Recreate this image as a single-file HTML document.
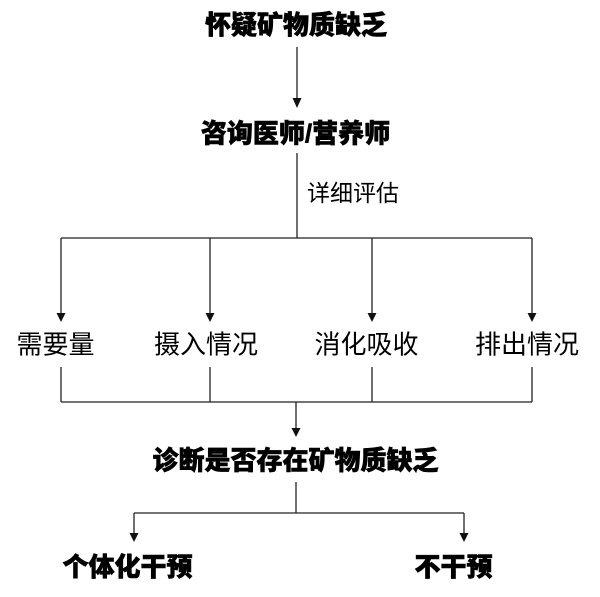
<!DOCTYPE html>
<html><head><meta charset="utf-8"><style>
html,body{margin:0;padding:0;background:#fff;}
svg{display:block;}
text{font-family:"Liberation Sans","Noto Sans CJK SC",sans-serif;fill:#000;}
.b{font-weight:900;font-size:26px;stroke:#000;stroke-width:0.6px;}
.r{font-weight:400;font-size:26px;}
</style></head><body>
<svg width="600" height="597" viewBox="0 0 600 597" xmlns="http://www.w3.org/2000/svg">
<g stroke="#222" stroke-width="1.3" fill="none">
<line x1="297" y1="47" x2="297" y2="100"/>
<line x1="297" y1="153" x2="297" y2="238"/>
<line x1="61" y1="238" x2="532" y2="238"/>
<line x1="61" y1="238" x2="61" y2="314"/>
<line x1="210" y1="238" x2="210" y2="314"/>
<line x1="372" y1="238" x2="372" y2="314"/>
<line x1="532" y1="238" x2="532" y2="314"/>
<line x1="61" y1="367" x2="61" y2="402"/>
<line x1="210" y1="367" x2="210" y2="402"/>
<line x1="372" y1="367" x2="372" y2="402"/>
<line x1="532" y1="367" x2="532" y2="402"/>
<line x1="61" y1="402" x2="532" y2="402"/>
<line x1="296" y1="402" x2="296" y2="429"/>
<line x1="296" y1="482" x2="296" y2="513"/>
<line x1="134" y1="513" x2="464" y2="513"/>
<line x1="134" y1="513" x2="134" y2="534"/>
<line x1="464" y1="513" x2="464" y2="534"/>
</g>
<g fill="#111">
<polygon points="292.5,98 301.5,98 297,108"/>
<polygon points="56.5,313 65.5,313 61,322"/>
<polygon points="205.5,313 214.5,313 210,322"/>
<polygon points="367.5,313 376.5,313 372,322"/>
<polygon points="527.5,313 536.5,313 532,322"/>
<polygon points="291.5,428 300.5,428 296,437"/>
<polygon points="129.5,533 138.5,533 134,542"/>
<polygon points="459.5,533 468.5,533 464,542"/>
</g>
<text class="b" x="296" y="25" text-anchor="middle" dominant-baseline="central">怀疑矿物质缺乏</text>
<text class="b" x="295.5" y="133.5" text-anchor="middle" dominant-baseline="central">咨询医师/营养师</text>
<text style="font-size:23px" x="307" y="193" dominant-baseline="central">详细评估</text>
<text class="r" x="55.5" y="344.5" text-anchor="middle" dominant-baseline="central">需要量</text>
<text class="r" x="206" y="344.5" text-anchor="middle" dominant-baseline="central">摄入情况</text>
<text class="r" x="366.5" y="344.5" text-anchor="middle" dominant-baseline="central">消化吸收</text>
<text class="r" x="527" y="344.5" text-anchor="middle" dominant-baseline="central">排出情况</text>
<text class="b" x="295.5" y="460.5" text-anchor="middle" dominant-baseline="central">诊断是否存在矿物质缺乏</text>
<text class="b" x="127.5" y="567" text-anchor="middle" dominant-baseline="central">个体化干预</text>
<text class="b" x="453.5" y="567" text-anchor="middle" dominant-baseline="central">不干预</text>
</svg>
</body></html>
